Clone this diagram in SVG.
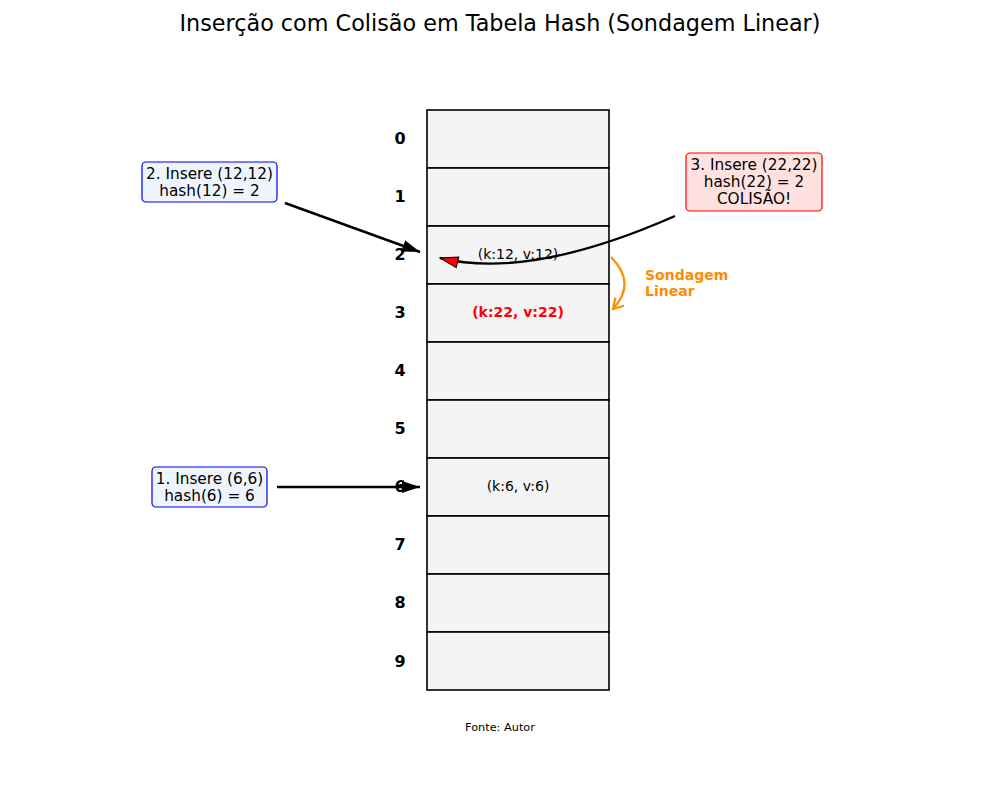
<svg xmlns="http://www.w3.org/2000/svg" width="1000" height="800" viewBox="0 0 1000 800">
<style>
text{font-family:"DejaVu Sans",sans-serif;}
.cell{fill:#f4f4f4;stroke:#000;stroke-width:1.6;}
.idx{font-size:16px;font-weight:bold;text-anchor:middle;}
.val{font-size:14px;text-anchor:middle;}
.box{font-size:15.3px;text-anchor:middle;}
.blue{fill:#eef5ff;stroke:#0000ee;stroke-width:1.2;}
.red{fill:#ffe2e0;stroke:#ff0000;stroke-width:1.2;}
.conn{fill:none;stroke:#000;stroke-width:2.4;}
</style>
<defs>
<marker id="ah" markerWidth="20" markerHeight="14" refX="18" refY="6" orient="auto" markerUnits="userSpaceOnUse">
<path d="M0,0 L18,6 L0,12 Z" fill="#000"/>
</marker>
<marker id="ahr" markerWidth="22" markerHeight="16" refX="19" refY="6.5" orient="auto" markerUnits="userSpaceOnUse">
<path d="M1,1 L19,6.5 L1,12 Z" fill="#ff0000" stroke="#000" stroke-width="1"/>
</marker>
<marker id="aho" markerWidth="16" markerHeight="16" refX="12" refY="7" orient="auto" markerUnits="userSpaceOnUse">
<path d="M2,1 L12,7 L2,13" fill="none" stroke="#ff8c00" stroke-width="2.2"/>
</marker>
</defs>
<rect width="1000" height="800" fill="#fff"/>
<text x="500" y="31" font-size="22.3" text-anchor="middle">Inserção com Colisão em Tabela Hash (Sondagem Linear)</text>
<g id="table">
<rect class="cell" x="427" y="110" width="182" height="58"/>
<rect class="cell" x="427" y="168" width="182" height="58"/>
<rect class="cell" x="427" y="226" width="182" height="58"/>
<rect class="cell" x="427" y="284" width="182" height="58"/>
<rect class="cell" x="427" y="342" width="182" height="58"/>
<rect class="cell" x="427" y="400" width="182" height="58"/>
<rect class="cell" x="427" y="458" width="182" height="58"/>
<rect class="cell" x="427" y="516" width="182" height="58"/>
<rect class="cell" x="427" y="574" width="182" height="58"/>
<rect class="cell" x="427" y="632" width="182" height="58"/>
<text class="idx" x="400" y="144">0</text>
<text class="idx" x="400" y="202">1</text>
<text class="idx" x="400" y="260">2</text>
<text class="idx" x="400" y="318">3</text>
<text class="idx" x="400" y="376">4</text>
<text class="idx" x="400" y="434">5</text>
<text class="idx" x="400" y="492">6</text>
<text class="idx" x="400" y="550">7</text>
<text class="idx" x="400" y="608">8</text>
<text class="idx" x="400" y="667">9</text>
<text class="val" x="518" y="259">(k:12, v:12)</text>
<text class="val" x="518" y="317" font-weight="bold" fill="#ff0000">(k:22, v:22)</text>
<text class="val" x="518" y="491">(k:6, v:6)</text>
</g>
<g id="connectors">
<line class="conn" x1="285" y1="203" x2="420" y2="252" marker-end="url(#ah)"/>
<line class="conn" x1="277" y1="487" x2="420" y2="487" marker-end="url(#ah)"/>
<path class="conn" d="M675,216 Q530,280 440,258" marker-end="url(#ahr)"/>
<path d="M611,257 Q637,283 613,309" fill="none" stroke="#ff8c00" stroke-width="2.2" marker-end="url(#aho)"/>
</g>
<g id="node-insert12">
<rect class="blue" x="142" y="162" width="135" height="40" rx="4"/>
<text class="box" x="209.5" y="179">2. Insere (12,12)</text>
<text class="box" x="209.5" y="196">hash(12) = 2</text>
</g>
<g id="node-insert6">
<rect class="blue" x="152" y="467" width="115" height="40" rx="4"/>
<text class="box" x="209.5" y="484">1. Insere (6,6)</text>
<text class="box" x="209.5" y="501">hash(6) = 6</text>
</g>
<g id="node-insert22">
<rect class="red" x="686" y="153" width="136" height="58" rx="4"/>
<text class="box" x="754" y="170">3. Insere (22,22)</text>
<text class="box" x="754" y="187">hash(22) = 2</text>
<text class="box" x="754" y="204">COLISÃO!</text>
</g>
<g id="label-sondagem">
<text x="645" y="280" font-size="14" font-weight="bold" fill="#ff8c00">Sondagem</text>
<text x="645" y="296" font-size="14" font-weight="bold" fill="#ff8c00">Linear</text>
</g>
<text x="500" y="731" font-size="11.3" text-anchor="middle">Fonte: Autor</text>
</svg>
